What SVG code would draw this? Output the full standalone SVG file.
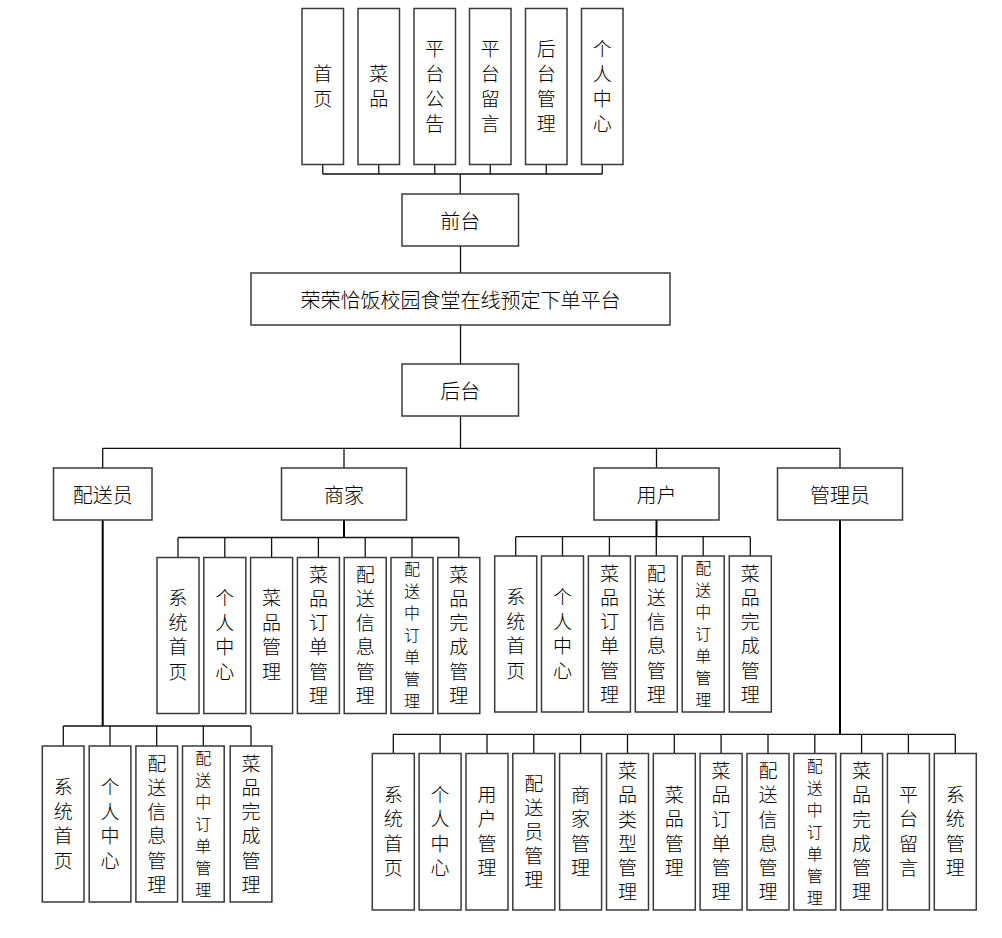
<svg xmlns="http://www.w3.org/2000/svg" width="1002" height="938" viewBox="0 0 1002 938">
<style>
.box{fill:#fff;stroke:#3a3a3a;stroke-width:1.5}
.ln{fill:none;stroke:#111;stroke-width:1.3}
.tr{fill:none;stroke:#000;stroke-width:2}
text{font-family:"Noto Sans CJK SC","Noto Sans CJK JP",sans-serif;font-size:20px;fill:#000;text-anchor:middle;dominant-baseline:central;font-weight:300}
.v{writing-mode:vertical-rl;font-size:19px;letter-spacing:5.5px}
.v6{writing-mode:vertical-rl;font-size:19px;letter-spacing:5.2px}
.v5{writing-mode:vertical-rl;font-size:19px;letter-spacing:5px}
.vt{writing-mode:vertical-rl;font-size:19px;letter-spacing:6px}
.s{writing-mode:vertical-rl;font-size:16px;letter-spacing:6px}
</style>
<rect width="1002" height="938" fill="#fff"/>
<g id="connectors">
<path class="ln" d="M322.75 164.5V174M378.75 164.5V174M434.75 164.5V174M490.25 164.5V174M546.25 164.5V174M602.25 164.5V174M322.75 174H602.25M460.3 174V194"/>
<path class="ln" d="M460.5 246V273M460.5 325V364M460.5 416V448.3M102.7 448.3H840M102.7 448.3V468M344 448.3V468M656.5 448.3V468M840 448.3V468"/>
<path class="tr" d="M344 520V537.5M656.5 520V536.7M102.7 520V726M840 520V734.3"/>
<path class="ln" d="M178 537.5H458.8M178 537.5V557.5M224.8 537.5V557.5M271.6 537.5V557.5M318.4 537.5V557.5M365.2 537.5V557.5M412 537.5V557.5M458.8 537.5V557.5"/>
<path class="ln" d="M515.7 536.7H750.3M515.7 536.7V556M562.5 536.7V556M609.4 536.7V556M656.3 536.7V556M703.2 536.7V556M750.3 536.7V556"/>
<path class="ln" d="M63.3 726H251M63.3 726V746M110 726V746M156.7 726V746M203.3 726V746M251 726V746"/>
<path class="ln" d="M393.3 734.3H955.3M393.3 734.3V753.5M440.1 734.3V753.5M487 734.3V753.5M533.8 734.3V753.5M580.6 734.3V753.5M627.5 734.3V753.5M674.3 734.3V753.5M721.1 734.3V753.5M768 734.3V753.5M814.8 734.3V753.5M861.6 734.3V753.5M908.4 734.3V753.5M955.3 734.3V753.5"/>
</g>
<g id="top">
<g id="n-shouye"><rect class="box" x="302" y="8.5" width="41.5" height="156"/><text class="vt" x="322.75" y="89.5">首页</text></g>
<g id="n-caipin"><rect class="box" x="358" y="8.5" width="41.5" height="156"/><text class="vt" x="378.75" y="89.5">菜品</text></g>
<g id="n-gonggao"><rect class="box" x="414" y="8.5" width="41.5" height="156"/><text class="vt" x="434.75" y="89.5">平台公告</text></g>
<g id="n-liuyan"><rect class="box" x="469.5" y="8.5" width="41.5" height="156"/><text class="vt" x="490.25" y="89.5">平台留言</text></g>
<g id="n-houtaiguanli"><rect class="box" x="525.5" y="8.5" width="41.5" height="156"/><text class="vt" x="546.25" y="89.5">后台管理</text></g>
<g id="n-geren"><rect class="box" x="581.5" y="8.5" width="41.5" height="156"/><text class="vt" x="602.25" y="89.5">个人中心</text></g>
</g>
<g id="n-qiantai"><rect class="box" x="402" y="194" width="116.5" height="52"/><text x="460.3" y="220">前台</text></g>
<g id="n-main"><rect class="box" x="251" y="273" width="419" height="52"/><text x="460.5" y="299">荣荣恰饭校园食堂在线预定下单平台</text></g>
<g id="n-houtai"><rect class="box" x="402" y="364" width="116.5" height="52"/><text x="460.3" y="390">后台</text></g>
<g id="n-peisongyuan"><rect class="box" x="53.5" y="468" width="98.5" height="52"/><text x="102.7" y="494">配送员</text></g>
<g id="n-shangjia"><rect class="box" x="281.5" y="468" width="125" height="52"/><text x="344" y="494">商家</text></g>
<g id="n-yonghu"><rect class="box" x="594" y="468" width="125" height="52"/><text x="656.5" y="494">用户</text></g>
<g id="n-guanliyuan"><rect class="box" x="777.5" y="468" width="125" height="52"/><text x="840" y="494">管理员</text></g>

<g id="shangjia-children">
<g id="sj1"><rect class="box" x="157" y="557.5" width="42" height="156"/><text class="v" x="178" y="637.75">系统首页</text></g>
<g id="sj2"><rect class="box" x="203.8" y="557.5" width="42" height="156"/><text class="v" x="224.8" y="637.75">个人中心</text></g>
<g id="sj3"><rect class="box" x="250.6" y="557.5" width="42" height="156"/><text class="v" x="271.6" y="637.75">菜品管理</text></g>
<g id="sj4"><rect class="box" x="297.4" y="557.5" width="42" height="156"/><text class="v6" x="318.4" y="637.6">菜品订单管理</text></g>
<g id="sj5"><rect class="box" x="344.2" y="557.5" width="42" height="156"/><text class="v6" x="365.2" y="637.6">配送信息管理</text></g>
<g id="sj6"><rect class="box" x="391" y="557.5" width="42" height="156"/><text class="s" x="412" y="638">配送中订单管理</text></g>
<g id="sj7"><rect class="box" x="437.8" y="557.5" width="42" height="156"/><text class="v6" x="458.8" y="637.6">菜品完成管理</text></g>
</g>

<g id="yonghu-children">
<g id="yh1"><rect class="box" x="494.7" y="556" width="42" height="156"/><text class="v" x="515.7" y="636.75">系统首页</text></g>
<g id="yh2"><rect class="box" x="541.5" y="556" width="42" height="156"/><text class="v" x="562.5" y="636.75">个人中心</text></g>
<g id="yh3"><rect class="box" x="588.4" y="556" width="42" height="156"/><text class="v6" x="609.4" y="636.6">菜品订单管理</text></g>
<g id="yh4"><rect class="box" x="635.3" y="556" width="42" height="156"/><text class="v6" x="656.3" y="636.6">配送信息管理</text></g>
<g id="yh5"><rect class="box" x="682.2" y="556" width="42" height="156"/><text class="s" x="703.2" y="637">配送中订单管理</text></g>
<g id="yh6"><rect class="box" x="729.3" y="556" width="42" height="156"/><text class="v6" x="750.3" y="636.6">菜品完成管理</text></g>
</g>

<g id="peisong-children">
<g id="ps1"><rect class="box" x="42.3" y="746" width="41.7" height="156"/><text class="v" x="63.3" y="826.75">系统首页</text></g>
<g id="ps2"><rect class="box" x="89.2" y="746" width="41.7" height="156"/><text class="v" x="110" y="826.75">个人中心</text></g>
<g id="ps3"><rect class="box" x="135.9" y="746" width="41.7" height="156"/><text class="v6" x="156.7" y="826.6">配送信息管理</text></g>
<g id="ps4"><rect class="box" x="182.5" y="746" width="41.7" height="156"/><text class="s" x="203.3" y="827">配送中订单管理</text></g>
<g id="ps5"><rect class="box" x="230.2" y="746" width="41.7" height="156"/><text class="v6" x="251" y="826.6">菜品完成管理</text></g>
</g>

<g id="admin-children">
<g id="ad1"><rect class="box" x="372.3" y="753.5" width="42" height="156.5"/><text class="v" x="393.3" y="834.25">系统首页</text></g>
<g id="ad2"><rect class="box" x="419.1" y="753.5" width="42" height="156.5"/><text class="v" x="440.1" y="834.25">个人中心</text></g>
<g id="ad3"><rect class="box" x="466" y="753.5" width="42" height="156.5"/><text class="v" x="487" y="834.25">用户管理</text></g>
<g id="ad4"><rect class="box" x="512.8" y="753.5" width="42" height="156.5"/><text class="v5" x="533.8" y="834">配送员管理</text></g>
<g id="ad5"><rect class="box" x="559.6" y="753.5" width="42" height="156.5"/><text class="v" x="580.6" y="834.25">商家管理</text></g>
<g id="ad6"><rect class="box" x="606.5" y="753.5" width="42" height="156.5"/><text class="v6" x="627.5" y="834.1">菜品类型管理</text></g>
<g id="ad7"><rect class="box" x="653.3" y="753.5" width="42" height="156.5"/><text class="v" x="674.3" y="834.25">菜品管理</text></g>
<g id="ad8"><rect class="box" x="700.1" y="753.5" width="42" height="156.5"/><text class="v6" x="721.1" y="834.1">菜品订单管理</text></g>
<g id="ad9"><rect class="box" x="747" y="753.5" width="42" height="156.5"/><text class="v6" x="768" y="834.1">配送信息管理</text></g>
<g id="ad10"><rect class="box" x="793.8" y="753.5" width="42" height="156.5"/><text class="s" x="814.8" y="834.5">配送中订单管理</text></g>
<g id="ad11"><rect class="box" x="840.6" y="753.5" width="42" height="156.5"/><text class="v6" x="861.6" y="834.1">菜品完成管理</text></g>
<g id="ad12"><rect class="box" x="887.4" y="753.5" width="42" height="156.5"/><text class="v" x="908.4" y="834.25">平台留言</text></g>
<g id="ad13"><rect class="box" x="934.3" y="753.5" width="42" height="156.5"/><text class="v" x="955.3" y="834.25">系统管理</text></g>
</g>
</svg>
